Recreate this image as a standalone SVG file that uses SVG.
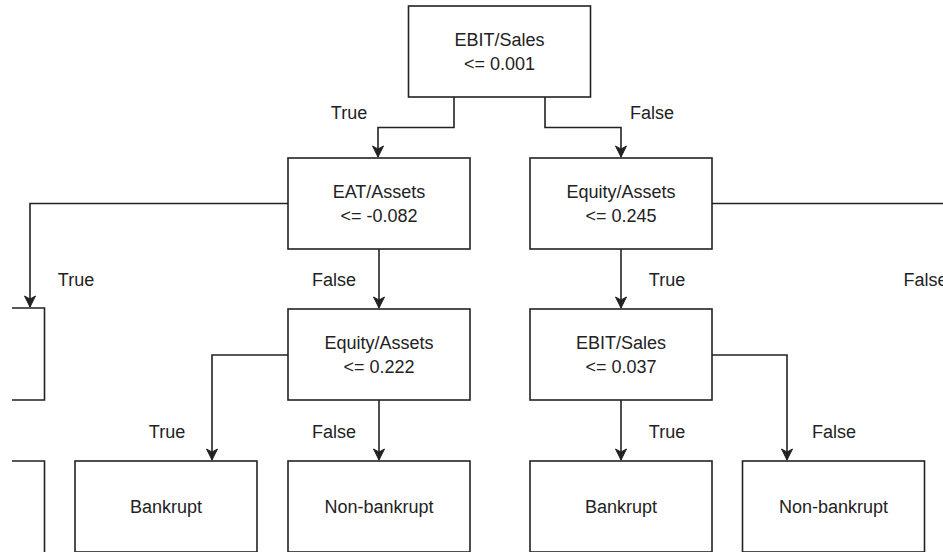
<svg xmlns="http://www.w3.org/2000/svg" width="943" height="552" viewBox="0 0 943 552">
<style>
.box{fill:#fff;stroke:#222;stroke-width:1.6}
.edge{fill:none;stroke:#222;stroke-width:1.6}
text{font-family:"Liberation Sans",Arial,sans-serif;font-size:18px;fill:#222;text-anchor:middle}
</style>
<defs>
<marker id="arr" viewBox="-12 -6 13 12" refX="0" refY="0" markerWidth="13" markerHeight="12" markerUnits="userSpaceOnUse" orient="auto">
<path d="M-11,-5.5 L0,0 L-11,5.5 L-8,0 Z" fill="#222" stroke="#222" stroke-width="1"/>
</marker>
</defs>
<rect width="943" height="552" fill="#fff"/>
<g id="connectors">
<path class="edge" d="M454,97 V127.5 H378 V157" marker-end="url(#arr)"/>
<path class="edge" d="M545,97 V127.5 H621 V157" marker-end="url(#arr)"/>
<path class="edge" d="M288,203.5 H30 V307" marker-end="url(#arr)"/>
<path class="edge" d="M379,249 V308" marker-end="url(#arr)"/>
<path class="edge" d="M712,203.5 H945"/>
<path class="edge" d="M621,249 V308" marker-end="url(#arr)"/>
<path class="edge" d="M288,355 H212 V460" marker-end="url(#arr)"/>
<path class="edge" d="M379,400 V460" marker-end="url(#arr)"/>
<path class="edge" d="M621,400 V460" marker-end="url(#arr)"/>
<path class="edge" d="M712,355 H787 V460" marker-end="url(#arr)"/>
<text x="349" y="119">True</text>
<text x="652" y="119">False</text>
<text x="76" y="286">True</text>
<text x="334" y="286">False</text>
<text x="667" y="286">True</text>
<text x="903.5" y="286" style="text-anchor:start">False</text>
<text x="167" y="438">True</text>
<text x="334" y="438">False</text>
<text x="667" y="438">True</text>
<text x="834" y="438">False</text>
</g>
<g id="n_root">
<rect class="box" x="408.5" y="6" width="182" height="91"/>
<text x="499.5" y="46">EBIT/Sales</text>
<text x="499.5" y="70">&lt;= 0.001</text>
</g>
<g id="n_eat">
<rect class="box" x="288" y="158" width="182" height="91"/>
<text x="379" y="198">EAT/Assets</text>
<text x="379" y="222">&lt;= -0.082</text>
</g>
<g id="n_eq245">
<rect class="box" x="530" y="158" width="182" height="91"/>
<text x="621" y="198">Equity/Assets</text>
<text x="621" y="222">&lt;= 0.245</text>
</g>
<g id="n_leftmid">
<path class="edge" d="M12,308 H44.5 V400 H12"/>
</g>
<g id="n_eq222">
<rect class="box" x="288" y="309" width="182" height="91"/>
<text x="379" y="349">Equity/Assets</text>
<text x="379" y="373">&lt;= 0.222</text>
</g>
<g id="n_ebit037">
<rect class="box" x="530" y="309" width="182" height="91"/>
<text x="621" y="349">EBIT/Sales</text>
<text x="621" y="373">&lt;= 0.037</text>
</g>
<g id="n_leftbottom">
<path class="edge" d="M12,461 H44.5 V553"/>
</g>
<g id="n_bank1">
<rect class="box" x="75" y="461" width="182" height="91"/>
<text x="166" y="513">Bankrupt</text>
</g>
<g id="n_non1">
<rect class="box" x="288" y="461" width="182" height="91"/>
<text x="379" y="513">Non-bankrupt</text>
</g>
<g id="n_bank2">
<rect class="box" x="530" y="461" width="182" height="91"/>
<text x="621" y="513">Bankrupt</text>
</g>
<g id="n_non2">
<rect class="box" x="742.5" y="461" width="182" height="91"/>
<text x="833.5" y="513">Non-bankrupt</text>
</g>
</svg>
